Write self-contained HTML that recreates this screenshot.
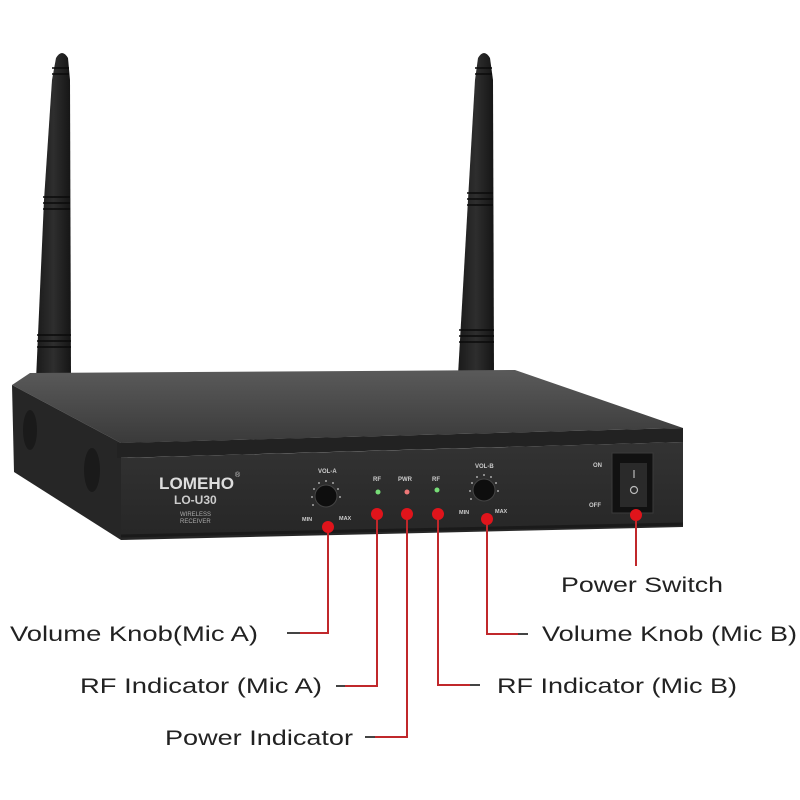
<!DOCTYPE html>
<html><head><meta charset="utf-8"><style>
html,body{margin:0;padding:0;background:#fff;}
svg{display:block}
text{font-family:"Liberation Sans",sans-serif;}
</style></head><body>
<svg width="800" height="800" viewBox="0 0 800 800" xmlns="http://www.w3.org/2000/svg">
<defs>
<linearGradient id="top" x1="0" y1="0" x2="0" y2="1"><stop offset="0" stop-color="#5a5a5a"/><stop offset="1" stop-color="#3a3a3a"/></linearGradient>
<linearGradient id="front" x1="0" y1="0" x2="0" y2="1"><stop offset="0" stop-color="#333"/><stop offset="1" stop-color="#262626"/></linearGradient>
<linearGradient id="ant" x1="0" y1="0" x2="1" y2="0"><stop offset="0" stop-color="#1a1a1a"/><stop offset="0.5" stop-color="#2e2e2e"/><stop offset="1" stop-color="#151515"/></linearGradient>
</defs>
<path d="M56,58 Q62,48 68,58 L70,80 L71,380 L36,380 L44,200 L52,80 Z" fill="url(#ant)"/>
<path d="M478,58 Q484,48 490,58 L493,80 L494,375 L458,375 L468,200 L475,80 Z" fill="url(#ant)"/>
<g stroke="#0a0a0a" stroke-width="1.5">
<line x1="52" y1="68" x2="69" y2="68"/><line x1="52" y1="74" x2="69" y2="74"/>
<line x1="43" y1="197" x2="70" y2="197"/><line x1="43" y1="203" x2="70" y2="203"/><line x1="43" y1="209" x2="70" y2="209"/>
<line x1="37" y1="335" x2="71" y2="335"/><line x1="37" y1="341" x2="71" y2="341"/><line x1="37" y1="347" x2="71" y2="347"/>
<line x1="475" y1="68" x2="492" y2="68"/><line x1="475" y1="74" x2="492" y2="74"/>
<line x1="467" y1="193" x2="493" y2="193"/><line x1="467" y1="199" x2="493" y2="199"/><line x1="467" y1="205" x2="493" y2="205"/>
<line x1="459" y1="330" x2="494" y2="330"/><line x1="459" y1="336" x2="494" y2="336"/><line x1="459" y1="342" x2="494" y2="342"/>
</g>
<polygon points="12,385 30,373 515,370 683,428 121,443" fill="url(#top)"/>
<polygon points="12,385 121,443 121,540 14,472" fill="#262626"/>
<ellipse cx="30" cy="430" rx="7" ry="20" fill="#1a1a1a"/>
<ellipse cx="92" cy="470" rx="8" ry="22" fill="#1a1a1a"/>
<polygon points="117,443 683,428 683,442 117,458" fill="#222"/>
<polygon points="121,458 683,442 683,527 121,540" fill="url(#front)"/>
<line x1="121" y1="536" x2="683" y2="524" stroke="#1a1a1a" stroke-width="3"/>
<text x="159" y="489" font-size="17" font-weight="bold" fill="#ddd" textLength="75" lengthAdjust="spacingAndGlyphs">LOMEHO</text>
<text x="235" y="477" font-size="7" fill="#ccc">®</text>
<text x="174" y="504" font-size="12" font-weight="bold" fill="#ccc">LO-U30</text>
<text x="180" y="516" font-size="6" fill="#aaa">WIRELESS</text>
<text x="180" y="523" font-size="6" fill="#aaa">RECEIVER</text>
<text x="318" y="473" font-size="6" font-weight="bold" fill="#ccc">VOL-A</text>
<circle cx="326" cy="496" r="11" fill="#0e0e0e" stroke="#444"/>
<g fill="#ccc"><circle cx="313" cy="505" r="0.9"/><circle cx="312" cy="497" r="0.9"/><circle cx="314" cy="489" r="0.9"/><circle cx="319" cy="483" r="0.9"/><circle cx="326" cy="481" r="0.9"/><circle cx="333" cy="483" r="0.9"/><circle cx="338" cy="489" r="0.9"/><circle cx="340" cy="497" r="0.9"/></g>
<text x="302" y="521" font-size="5.5" font-weight="bold" fill="#ccc">MIN</text>
<text x="339" y="520" font-size="5.5" font-weight="bold" fill="#ccc">MAX</text>
<text x="373" y="481" font-size="6" font-weight="bold" fill="#ccc">RF</text>
<text x="398" y="481" font-size="6" font-weight="bold" fill="#ccc">PWR</text>
<text x="432" y="481" font-size="6" font-weight="bold" fill="#ccc">RF</text>
<circle cx="378" cy="492" r="2.5" fill="#7d7"/>
<circle cx="407" cy="492" r="2.5" fill="#e77"/>
<circle cx="437" cy="490" r="2.5" fill="#7d7"/>
<text x="475" y="468" font-size="6" font-weight="bold" fill="#ccc">VOL-B</text>
<circle cx="484" cy="490" r="11" fill="#0e0e0e" stroke="#444"/>
<g fill="#ccc"><circle cx="471" cy="499" r="0.9"/><circle cx="470" cy="491" r="0.9"/><circle cx="472" cy="483" r="0.9"/><circle cx="477" cy="477" r="0.9"/><circle cx="484" cy="475" r="0.9"/><circle cx="491" cy="477" r="0.9"/><circle cx="496" cy="483" r="0.9"/><circle cx="498" cy="491" r="0.9"/></g>
<text x="459" y="514" font-size="5.5" font-weight="bold" fill="#ccc">MIN</text>
<text x="495" y="513" font-size="5.5" font-weight="bold" fill="#ccc">MAX</text>
<text x="593" y="467" font-size="6" font-weight="bold" fill="#ccc">ON</text>
<text x="589" y="507" font-size="6" font-weight="bold" fill="#ccc">OFF</text>
<rect x="612" y="453" width="41" height="60" fill="#111" stroke="#3a3a3a"/>
<rect x="620" y="463" width="27" height="44" fill="#2a2a2a"/>
<line x1="634" y1="470" x2="634" y2="478" stroke="#bbb" stroke-width="1.2"/>
<circle cx="634" cy="490" r="3.5" fill="none" stroke="#bbb" stroke-width="1.2"/>
<g stroke="#c0282b" stroke-width="2" fill="none">
<polyline points="328,528 328,633 300,633"/>
<polyline points="377,514 377,686 345,686"/>
<polyline points="407,514 407,737 375,737"/>
<polyline points="438,514 438,685 470,685"/>
<polyline points="487,518 487,634 518,634"/>
<line x1="636" y1="515" x2="636" y2="566"/>
</g>
<g stroke="#444" stroke-width="2">
<line x1="287" y1="633" x2="300" y2="633"/>
<line x1="336" y1="686" x2="345" y2="686"/>
<line x1="365" y1="737" x2="375" y2="737"/>
<line x1="470" y1="685" x2="480" y2="685"/>
<line x1="518" y1="634" x2="528" y2="634"/>
</g>
<g fill="#e0141b">
<circle cx="328" cy="527" r="6"/>
<circle cx="377" cy="514" r="6"/>
<circle cx="407" cy="514" r="6"/>
<circle cx="438" cy="514" r="6"/>
<circle cx="487" cy="519" r="6"/>
<circle cx="636" cy="515" r="6"/>
</g>
<g font-size="21" fill="#222">
<text x="561" y="592" textLength="162" lengthAdjust="spacingAndGlyphs">Power Switch</text>
<text x="10" y="641" textLength="248" lengthAdjust="spacingAndGlyphs">Volume Knob(Mic A)</text>
<text x="542" y="641" textLength="255" lengthAdjust="spacingAndGlyphs">Volume Knob (Mic B)</text>
<text x="80" y="693" textLength="242" lengthAdjust="spacingAndGlyphs">RF Indicator (Mic A)</text>
<text x="497" y="693" textLength="240" lengthAdjust="spacingAndGlyphs">RF Indicator (Mic B)</text>
<text x="165" y="745" textLength="188" lengthAdjust="spacingAndGlyphs">Power Indicator</text>
</g>
</svg>
</body></html>
